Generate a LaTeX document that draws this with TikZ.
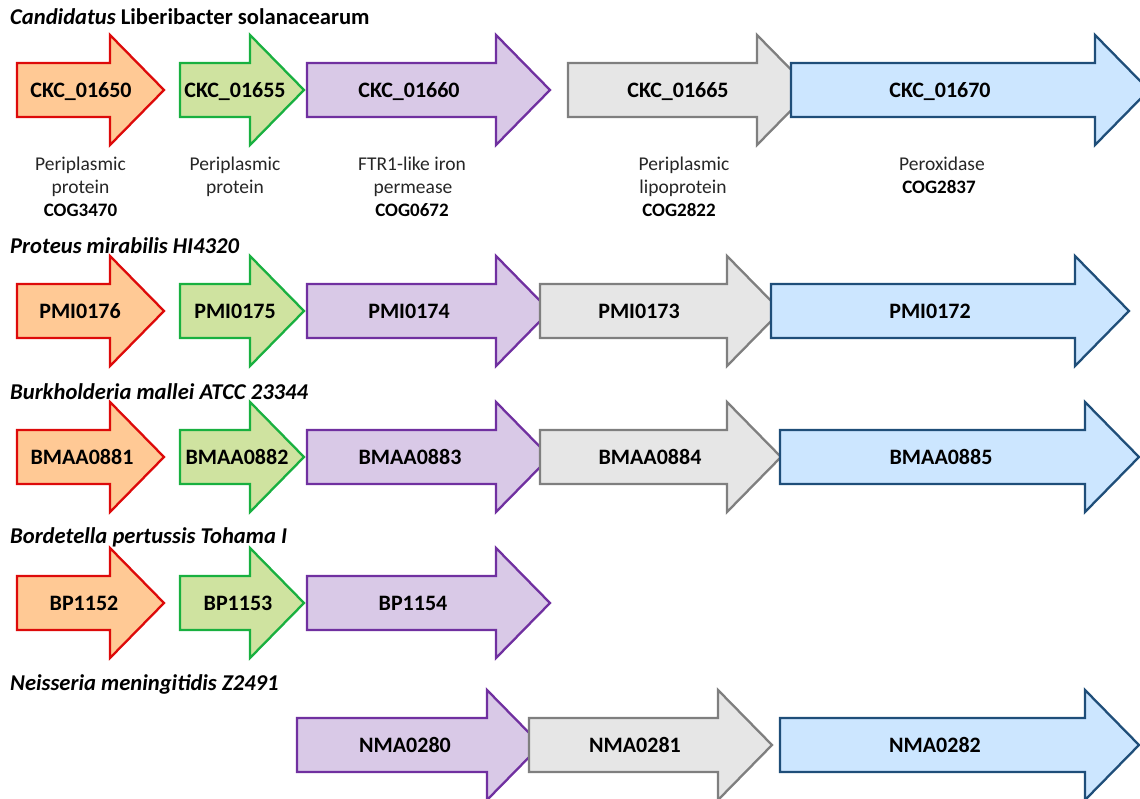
\documentclass[tikz,border=0pt]{standalone}
\usepackage{fontspec}
\setmainfont{Carlito}
\definecolor{orfill}{HTML}{FFC995}
\definecolor{ordraw}{HTML}{DD0A0A}
\definecolor{grfill}{HTML}{CFE3A0}
\definecolor{grdraw}{HTML}{19B040}
\definecolor{pufill}{HTML}{D9C9E7}
\definecolor{pudraw}{HTML}{7030A0}
\definecolor{gyfill}{HTML}{E6E6E6}
\definecolor{gydraw}{HTML}{7F7F7F}
\definecolor{blfill}{HTML}{CCE6FF}
\definecolor{bldraw}{HTML}{1F4E79}
\definecolor{desctext}{HTML}{262626}
\tikzset{
  gene/.style={line width=2.3pt, line join=miter, miter limit=10},
  orangeg/.style={gene, fill=orfill, draw=ordraw},
  greeng/.style={gene, fill=grfill, draw=grdraw},
  purpleg/.style={gene, fill=pufill, draw=pudraw},
  grayg/.style={gene, fill=gyfill, draw=gydraw},
  blueg/.style={gene, fill=blfill, draw=bldraw},
  lbl/.style={anchor=base, inner sep=0pt, font=\fontsize{22}{26}\selectfont\bfseries},
  ttl/.style={anchor=base west, inner sep=0pt, font=\fontsize{22.6}{27}\selectfont\bfseries\itshape},
  dsc/.style={anchor=base, inner sep=0pt, text=desctext, font=\fontsize{19.5}{23}\selectfont},
  cog/.style={anchor=base, inner sep=0pt, font=\fontsize{19}{23}\selectfont\bfseries},
}
% #1 style, #2 left x, #3 head x, #4 centre y, #5 label node name, #6 label x, #7 label
\newcommand\genearrow[7]{%
  \draw[#1] (#2,#4-27) -- (#3,#4-27) -- (#3,#4-55) -- (#3+54,#4) -- (#3,#4+55)
    -- (#3,#4+27) -- (#2,#4+27) -- cycle;
  \node[lbl] (#5) at (#6,#4+7.5) {#7};
}
\begin{document}
\begin{tikzpicture}[x=1pt,y=-1pt]
\useasboundingbox (0,0) rectangle (1140,799);
\clip (0,0) rectangle (1140,799);

% ---------- Row 1 ----------
\node[ttl] (t1) at (10,25) {Candidatus\upshape{} Liberibacter solanacearum};
\genearrow{orangeg}{17}{110}{90}{a1}{81}{CKC\_01650}
\genearrow{greeng}{180}{250}{90}{a2}{235}{CKC\_01655}
\genearrow{purpleg}{307}{496}{90}{a3}{409}{CKC\_01660}
\genearrow{grayg}{568}{757}{90}{a4}{678}{CKC\_01665}
\genearrow{blueg}{791}{1095}{90}{a5}{940}{CKC\_01670}

\node[dsc] (d1a) at (80.5,171) {Periplasmic};
\node[dsc] (d1b) at (80.5,194) {protein};
\node[cog] (c1)  at (80.5,217) {COG3470};
\node[dsc] (d2a) at (235,171) {Periplasmic};
\node[dsc] (d2b) at (235,194) {protein};
\node[dsc] (d3a) at (412,171) {FTR1-like iron};
\node[dsc] (d3b) at (413,194) {permease};
\node[cog] (c3)  at (412,217) {COG0672};
\node[dsc] (d4a) at (684,171) {Periplasmic};
\node[dsc] (d4b) at (683,194) {lipoprotein};
\node[cog] (c4)  at (679,217) {COG2822};
\node[dsc] (d5a) at (942,171) {Peroxidase};
\node[cog] (c5)  at (939,194) {COG2837};

% ---------- Row 2 ----------
\node[ttl] (t2) at (10,254) {Proteus mirabilis HI4320};
\genearrow{orangeg}{17}{110}{311}{b1}{80}{PMI0176}
\genearrow{greeng}{180}{250}{311}{b2}{235}{PMI0175}
\genearrow{purpleg}{307}{496}{311}{b3}{409}{PMI0174}
\genearrow{grayg}{540}{727}{311}{b4}{639}{PMI0173}
\genearrow{blueg}{771}{1075}{311}{b5}{930}{PMI0172}

% ---------- Row 3 ----------
\node[ttl] (t3) at (10,399) {Burkholderia mallei ATCC 23344};
\genearrow{orangeg}{17}{110}{457}{e1}{82}{BMAA0881}
\genearrow{greeng}{180}{250}{457}{e2}{237}{BMAA0882}
\genearrow{purpleg}{307}{496}{457}{e3}{410}{BMAA0883}
\genearrow{grayg}{540}{727}{457}{e4}{650}{BMAA0884}
\genearrow{blueg}{780}{1085}{457}{e5}{941}{BMAA0885}

% ---------- Row 4 ----------
\node[ttl] (t4) at (10,543) {Bordetella pertussis Tohama I};
\genearrow{orangeg}{17}{110}{603}{f1}{84}{BP1152}
\genearrow{greeng}{180}{250}{603}{f2}{238}{BP1153}
\genearrow{purpleg}{307}{496}{603}{f3}{413}{BP1154}

% ---------- Row 5 ----------
\node[ttl] (t5) at (10,690) {Neisseria meningitidis Z2491};
\genearrow{purpleg}{297}{487}{745}{h1}{405}{NMA0280}
\genearrow{grayg}{529}{718}{745}{h2}{635}{NMA0281}
\genearrow{blueg}{780}{1085}{745}{h3}{935}{NMA0282}
\end{tikzpicture}
\end{document}
